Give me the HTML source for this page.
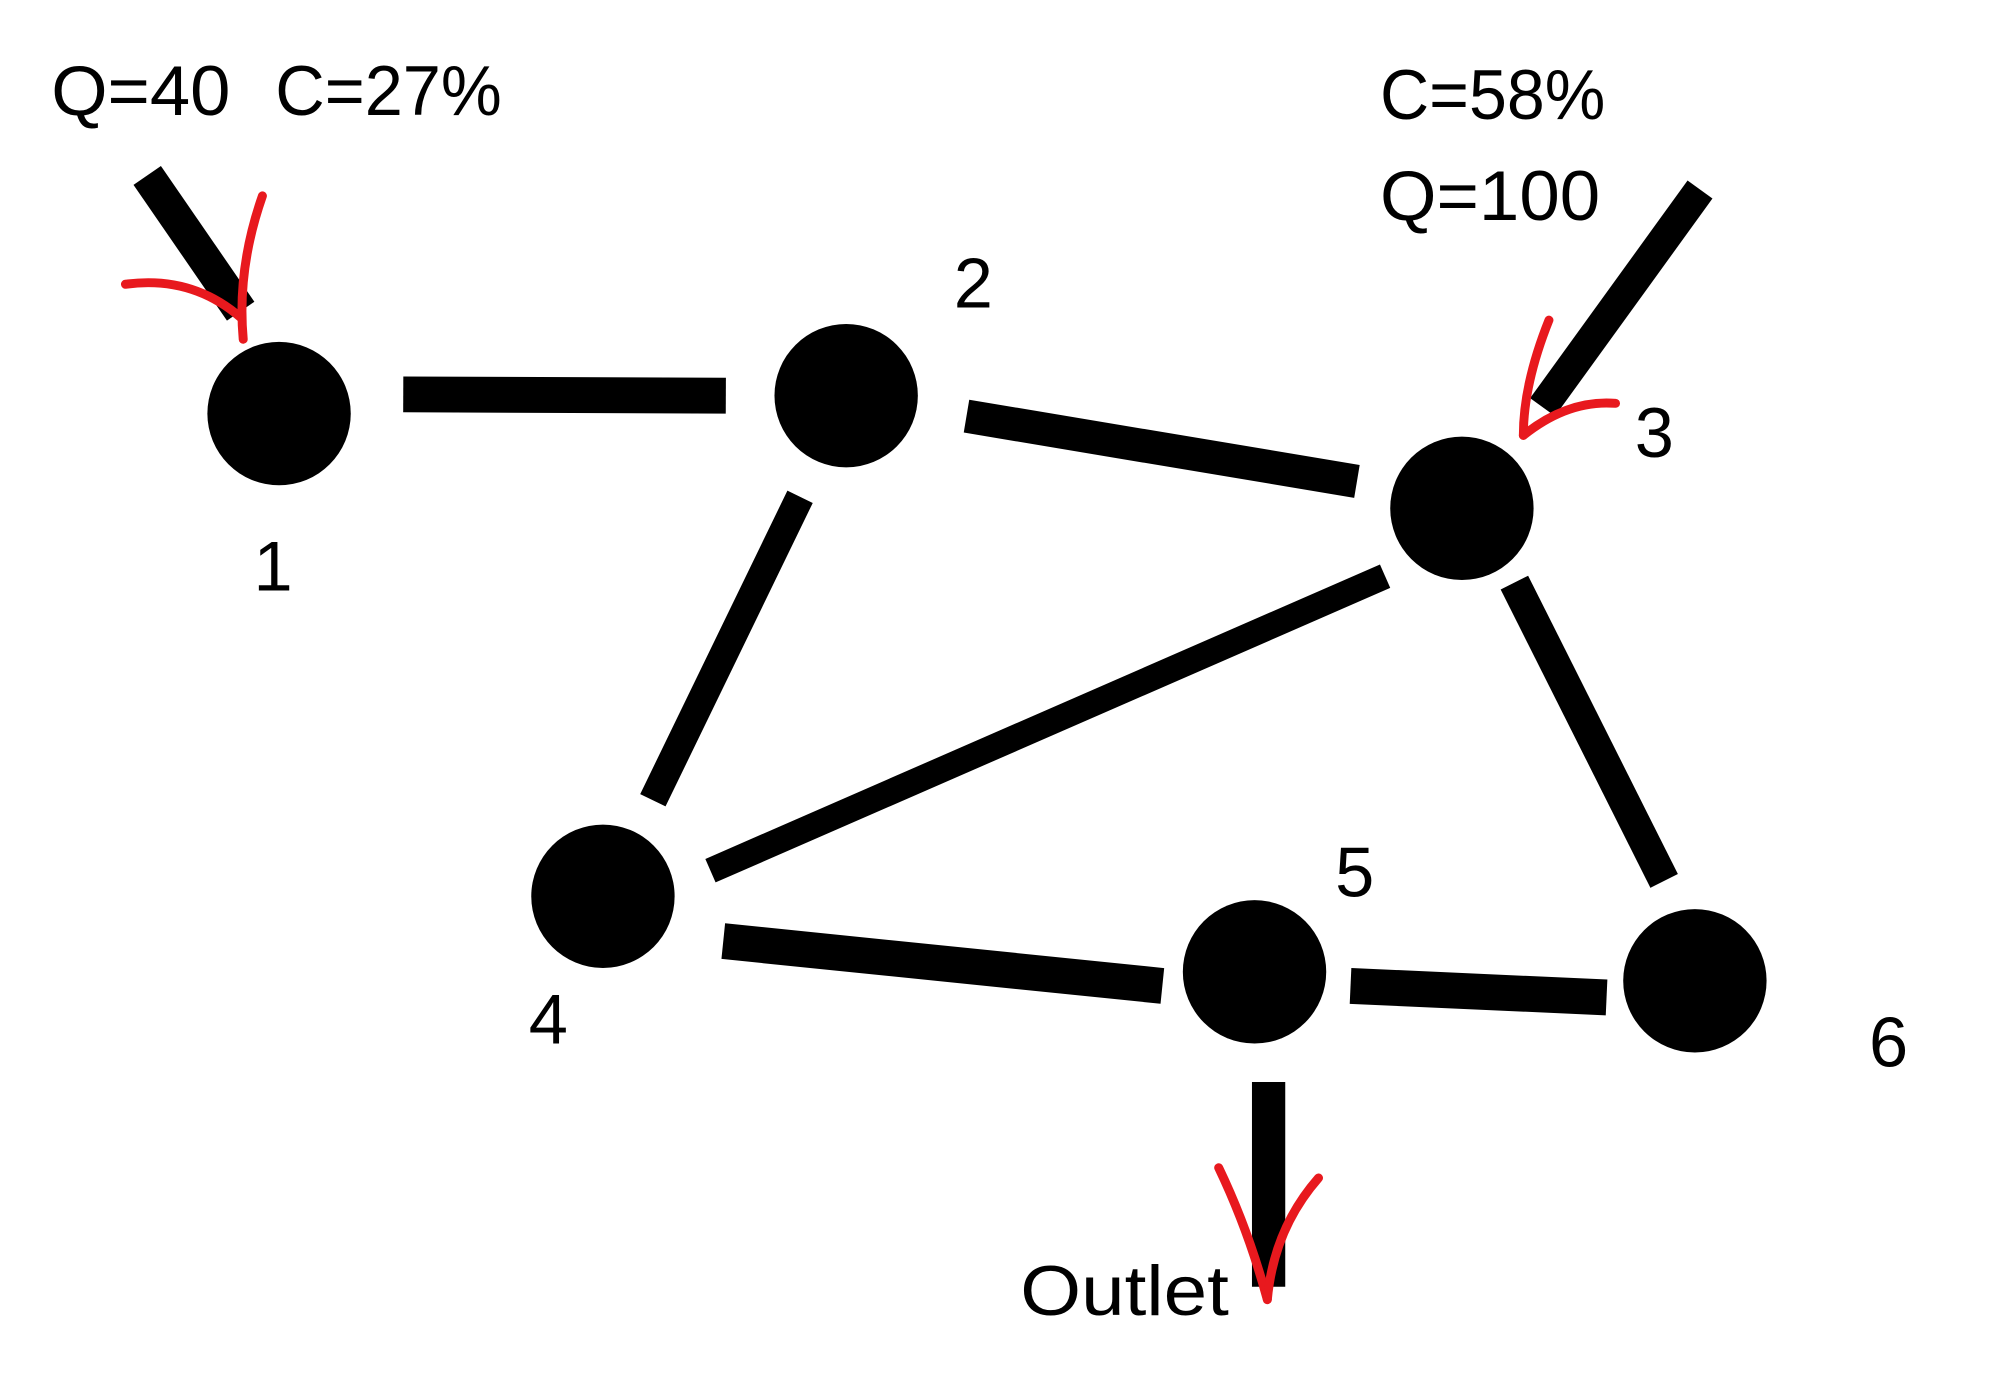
<!DOCTYPE html>
<html><head><meta charset="utf-8"><style>html,body{margin:0;padding:0;background:#fff;}svg{display:block}</style></head>
<body>
<svg width="1997" height="1379" viewBox="0 0 1560 1077" preserveAspectRatio="none" xmlns="http://www.w3.org/2000/svg">
<rect width="1560" height="1077" fill="#fff"/>
<g stroke="#000" stroke-linecap="butt" fill="none">
<line x1="315" y1="308" x2="567" y2="309" stroke-width="28"/>
<line x1="755" y1="325" x2="1060" y2="376" stroke-width="26"/>
<line x1="625" y1="388" x2="510" y2="625" stroke-width="22"/>
<line x1="1082" y1="450" x2="555" y2="680" stroke-width="20"/>
<line x1="1183" y1="455" x2="1300" y2="688" stroke-width="24"/>
<line x1="565" y1="735" x2="908" y2="770" stroke-width="28"/>
<line x1="1055" y1="770" x2="1255" y2="779" stroke-width="28"/>
<line x1="991" y1="845" x2="991" y2="1005" stroke-width="26"/>
<line x1="115" y1="137" x2="188" y2="243" stroke-width="26"/>
<line x1="1328" y1="148" x2="1205" y2="318" stroke-width="24"/>
</g>
<g fill="#000">
<circle cx="218" cy="323" r="56"/>
<circle cx="661" cy="309" r="56"/>
<circle cx="1142" cy="397" r="56"/>
<circle cx="471" cy="700" r="56"/>
<circle cx="980" cy="759" r="56"/>
<circle cx="1324" cy="766" r="56"/>
</g>
<g stroke="#e8191e" stroke-width="7" fill="none" stroke-linecap="round">
<path d="M98 222 Q150 215 188 248"/>
<path d="M205 153 Q185 210 190 265"/>
<path d="M1210 250 Q1190 300 1190 340"/>
<path d="M1190 340 Q1225 312 1262 315"/>
<path d="M952 912 Q975 960 990 1015"/>
<path d="M1030 920 Q995 960 990 1015"/>
</g>
<g font-family="Liberation Sans, sans-serif" font-size="55" fill="#000">
<text x="40" y="90" textLength="140" lengthAdjust="spacingAndGlyphs">Q=40</text>
<text x="215" y="90" textLength="177" lengthAdjust="spacingAndGlyphs">C=27%</text>
<text x="1078" y="93" textLength="176" lengthAdjust="spacingAndGlyphs">C=58%</text>
<text x="1078" y="172" textLength="172" lengthAdjust="spacingAndGlyphs">Q=100</text>
<text x="745" y="240">2</text>
<text x="1277" y="357">3</text>
<text x="198" y="461">1</text>
<text x="413" y="815">4</text>
<text x="1043" y="700">5</text>
<text x="1460" y="833">6</text>
<text x="797" y="1027" textLength="163" lengthAdjust="spacingAndGlyphs">Outlet</text>
</g>
</svg>
</body></html>
